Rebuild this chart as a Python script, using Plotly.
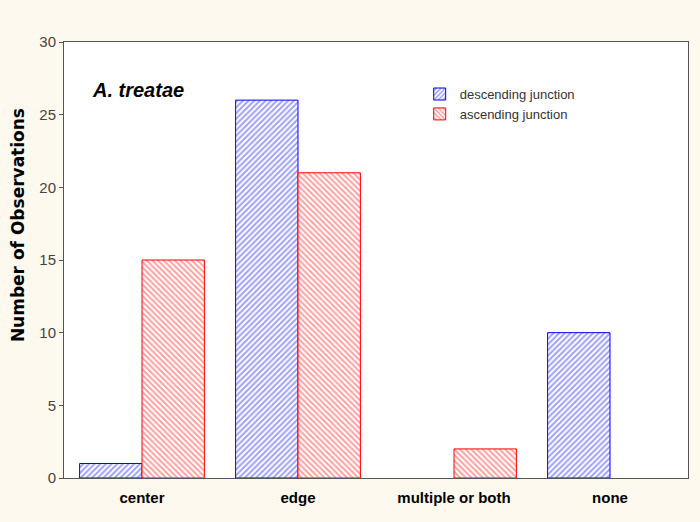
import plotly.graph_objects as go

categories = ["center", "edge", "multiple or both", "none"]
descending = [1, 26, 0, 10]
ascending = [15, 21, 2, 0]
series_names = ["descending junction", "ascending junction"]
y_ticks = [0, 5, 10, 15, 20, 25, 30]

def outline_widths(values):
    return [1 if v > 0 else 0 for v in values]

fig = go.Figure()
fig.add_trace(go.Bar(
    x=categories, y=descending, name=series_names[0],
    marker=dict(color="white", line=dict(color="#0000ff", width=outline_widths(descending)),
                pattern=dict(shape="/", fgcolor="#4040ff", bgcolor="white", size=4, solidity=0.5)),
))
fig.add_trace(go.Bar(
    x=categories, y=ascending, name=series_names[1],
    marker=dict(color="white", line=dict(color="#ff0000", width=outline_widths(ascending)),
                pattern=dict(shape="\\", fgcolor="#ff4040", bgcolor="white", size=4, solidity=0.5)),
))

fig.update_layout(
    width=700, height=522,
    margin=dict(l=64, r=12, t=42, b=44),
    paper_bgcolor="#fdf9ef",
    plot_bgcolor="white",
    barmode="group", bargap=0.2, bargroupgap=0,
    font=dict(family="Liberation Sans, Arial", color="#222"),
    showlegend=True,
    legend=dict(x=0.57, y=0.915, xanchor="left", yanchor="top",
                bgcolor="rgba(0,0,0,0)", font=dict(size=13, color="#333"),
                tracegroupgap=0, itemwidth=30),
    xaxis=dict(range=[-0.5, 3.5], showline=True, linecolor="#555", linewidth=1, mirror=True,
               ticks="", ticklabelstandoff=6,
               tickfont=dict(size=15, color="black", family="Liberation Sans, Arial", weight="bold")),
    yaxis=dict(range=[0, 30], tickvals=y_ticks, showline=True, linecolor="#555", linewidth=1, mirror=True,
               showgrid=False, zeroline=False, ticks="outside", ticklen=4, tickcolor="#555",
               tickfont=dict(size=15, color="#444")),
    annotations=[
        dict(text="<b><i>A. treatae</i></b>", x=0.042, y=0.89, xref="paper", yref="paper",
             xanchor="left", yanchor="middle", showarrow=False,
             font=dict(size=20, color="black")),
        dict(text="<b>Number of Observations</b>", x=0, y=0.58, xref="paper", yref="paper",
             xshift=-46, xanchor="center", yanchor="middle", textangle=-90, showarrow=False,
             font=dict(size=17, color="black", family="DejaVu Sans")),
    ],
)

fig.write_html("out.html", config={"displayModeBar": False},
               post_script="document.body.style.margin='0';")
